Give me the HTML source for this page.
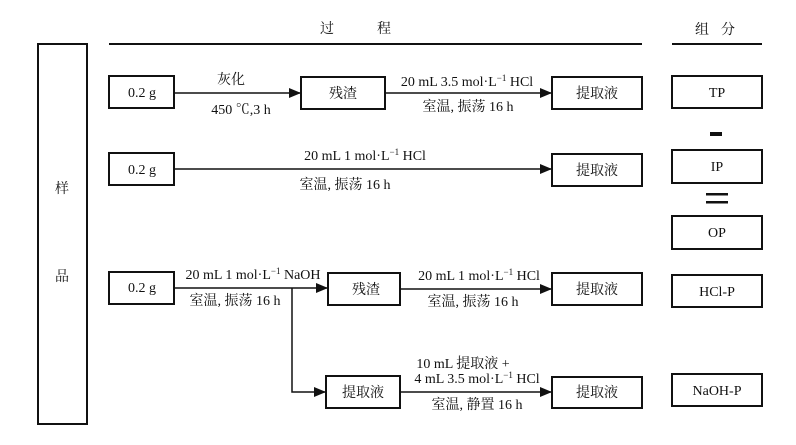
<!DOCTYPE html>
<html><head><meta charset="utf-8"><style>
html,body{margin:0;padding:0;background:#fff;}
svg text{font-family:"Liberation Serif","Noto Serif CJK SC",serif;font-size:14px;fill:#111;}
</style></head><body>
<svg width="796" height="440" xmlns="http://www.w3.org/2000/svg">
<defs><marker id="a" markerWidth="12" markerHeight="10" refX="12" refY="5" orient="auto" markerUnits="userSpaceOnUse"><path d="M0,0L12,5L0,10z" fill="#111"/></marker></defs>
<g stroke="#111" fill="none" stroke-width="2">
<line x1="109" y1="44" x2="642" y2="44"/>
<line x1="672" y1="44" x2="762" y2="44"/>
<rect x="38" y="44" width="49" height="380"/>
<rect x="109" y="76" width="65" height="32"/>
<rect x="301" y="77" width="84" height="32"/>
<rect x="552" y="77" width="90" height="32"/>
<rect x="672" y="76" width="90" height="32"/>
<rect x="109" y="153" width="65" height="32"/>
<rect x="552" y="154" width="90" height="32"/>
<rect x="672" y="150" width="90" height="33"/>
<rect x="672" y="216" width="90" height="33"/>
<rect x="109" y="272" width="65" height="32"/>
<rect x="328" y="273" width="72" height="32"/>
<rect x="552" y="273" width="90" height="32"/>
<rect x="672" y="275" width="90" height="32"/>
<rect x="326" y="376" width="74" height="32"/>
<rect x="552" y="377" width="90" height="31"/>
<rect x="672" y="374" width="90" height="32"/>
</g>
<g stroke="#111" stroke-width="1.5" fill="none">
<line x1="174" y1="93" x2="301" y2="93" marker-end="url(#a)"/>
<line x1="385" y1="93" x2="552" y2="93" marker-end="url(#a)"/>
<line x1="174" y1="169" x2="552" y2="169" marker-end="url(#a)"/>
<line x1="174" y1="288" x2="328" y2="288" marker-end="url(#a)"/>
<line x1="400" y1="289" x2="552" y2="289" marker-end="url(#a)"/>
<polyline points="292,288 292,392 326,392" marker-end="url(#a)"/>
<line x1="400" y1="392" x2="552" y2="392" marker-end="url(#a)"/>
</g>
<rect x="710" y="132" width="12" height="4" fill="#111"/>
<rect x="706" y="193" width="22" height="2.5" fill="#111"/>
<rect x="706" y="201" width="22" height="2.5" fill="#111"/>
<g text-anchor="middle">
<text x="327" y="33">过</text><text x="384" y="33">程</text>
<text x="702" y="34">组</text><text x="728" y="34">分</text>
<text x="62" y="193">样</text><text x="62" y="281">品</text>
<text x="142" y="97">0.2 g</text>
<text x="231" y="84">灰化</text>
<text x="241" y="114">450 ℃,3 h</text>
<text x="343" y="98">残渣</text>
<text x="467" y="86">20 mL 3.5 mol·L<tspan dy="-5" font-size="9">−1</tspan><tspan dy="5"> HCl</tspan></text>
<text x="468" y="111">室温, 振荡 16 h</text>
<text x="597" y="98">提取液</text>
<text x="717" y="97">TP</text>
<text x="142" y="174">0.2 g</text>
<text x="365" y="160">20 mL 1 mol·L<tspan dy="-5" font-size="9">−1</tspan><tspan dy="5"> HCl</tspan></text>
<text x="345" y="189">室温, 振荡 16 h</text>
<text x="597" y="175">提取液</text>
<text x="717" y="171">IP</text>
<text x="717" y="237">OP</text>
<text x="142" y="292">0.2 g</text>
<text x="253" y="279">20 mL 1 mol·L<tspan dy="-5" font-size="9">−1</tspan><tspan dy="5"> NaOH</tspan></text>
<text x="235" y="305">室温, 振荡 16 h</text>
<text x="366" y="294">残渣</text>
<text x="479" y="280">20 mL 1 mol·L<tspan dy="-5" font-size="9">−1</tspan><tspan dy="5"> HCl</tspan></text>
<text x="473" y="306">室温, 振荡 16 h</text>
<text x="597" y="294">提取液</text>
<text x="717" y="296">HCl-P</text>
<text x="363" y="397">提取液</text>
<text x="463" y="368">10 mL 提取液 +</text>
<text x="477" y="383">4 mL 3.5 mol·L<tspan dy="-5" font-size="9">−1</tspan><tspan dy="5"> HCl</tspan></text>
<text x="477" y="409">室温, 静置 16 h</text>
<text x="597" y="397">提取液</text>
<text x="717" y="395">NaOH-P</text>
</g>
</svg>
</body></html>
